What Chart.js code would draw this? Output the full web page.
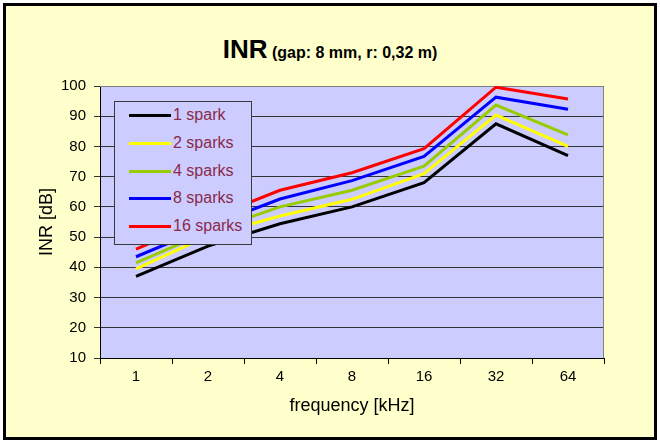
<!DOCTYPE html>
<html>
<head>
<meta charset="utf-8">
<script src="https://cdn.jsdelivr.net/npm/chart.js@4.4.1/dist/chart.umd.min.js"></script>
<style>
    body { margin: 0; background: #fff; font-family: "Liberation Sans", Arial, sans-serif; }
    #frame { position: absolute; left: 3px; top: 3px; width: 648px; height: 431px; border: 3px solid #000; background: #FFFFCC; }
    #title { position: absolute; left: 0; top: 34px; width: 660px; text-align: center; font-size: 26px; font-weight: bold; line-height: 30px; color: #000; }
    #title span { font-size: 16px; }
    #wrap { position: absolute; left: 0; top: 0; width: 660px; height: 443px; }
    #legend { position: absolute; left: 114px; top: 101px; width: 136px; height: 142px; border: 1px solid #3a3a3a; background: #CCCCFF; }
    .item { position: absolute; left: 0; height: 20px; width: 136px; }
    .swatch { position: absolute; left: 14px; top: 9px; width: 42px; height: 3px; }
    .lbl { position: absolute; left: 58px; top: 0; font-size: 16px; line-height: 20px; color: #8a2a4a; white-space: nowrap; }
</style>
</head>
<body>
<div id="frame"></div>
<div id="title">INR<span> (gap: 8 mm, r: 0,32 m)</span></div>
<div id="wrap"><canvas id="chart" width="660" height="443"></canvas></div>
<div id="legend"></div>
<script>
// frequenze (kHz) e valori INR
const categories = ['1', '2', '4', '8', '16', '32', '64'];
const seriesNames = ['1 spark', '2 sparks', '4 sparks', '8 sparks', '16 sparks'];
const spark1 = [37, 47, 54.4, 60, 68, 87.5, 77];
const spark2 = [39.5, 50.4, 57, 62.5, 71, 90.4, 80];
const spark4 = [41.5, 51.8, 60, 65.5, 73.5, 93.7, 83.8];
const spark8 = [43.5, 53.5, 62.6, 68.7, 76.7, 96.3, 92.3];
const spark16 = [46, 56, 65.5, 71.3, 79.3, 99.6, 95.7];
const yTicks = [10, 20, 30, 40, 50, 60, 70, 80, 90, 100];

const colors = ['#000000', '#FFFF00', '#99CC00', '#0000FF', '#FF0000'];
const values = [spark1, spark2, spark4, spark8, spark16];

// sfondo e bordo dell'area del grafico
const plotArea = {
    id: 'plotArea',
    beforeDraw(chart) {
        const a = chart.chartArea, ctx = chart.ctx;
        ctx.save();
        ctx.fillStyle = '#CCCCFF';
        ctx.fillRect(a.left, a.top, a.right - a.left, a.bottom - a.top);
        ctx.restore();
    },
    beforeDatasetsDraw(chart) {
        const a = chart.chartArea, ctx = chart.ctx;
        ctx.save();
        ctx.strokeStyle = '#808080';
        ctx.lineWidth = 1;
        ctx.beginPath();
        ctx.moveTo(a.left, a.top + 0.5);
        ctx.lineTo(a.right - 0.5, a.top + 0.5);
        ctx.lineTo(a.right - 0.5, a.bottom);
        ctx.stroke();
        ctx.restore();
    }
};

const chart = new Chart(document.getElementById('chart').getContext('2d'), {
    type: 'line',
    data: {
        labels: categories,
        datasets: seriesNames.map((name, i) => ({
            label: name,
            data: values[i],
            borderColor: colors[i],
            backgroundColor: colors[i],
            borderWidth: 3,
            pointRadius: 0,
            tension: 0,
            order: seriesNames.length - i
        }))
    },
    plugins: [plotArea],
    options: {
        responsive: false,
        animation: false,
        layout: { padding: { left: 0, top: 86, right: 56, bottom: 0 } },
        plugins: {
            legend: { display: false },
            title: { display: false },
            tooltip: { enabled: false }
        },
        scales: {
            x: {
                offset: true,
                grid: { offset: true, drawOnChartArea: false, drawTicks: true, tickLength: 6, color: '#000' },
                border: { display: true, color: '#000', width: 1 },
                ticks: { color: '#000', padding: 4, font: { family: 'Liberation Sans', size: 15 } },
                title: { display: true, text: 'frequency [kHz]', color: '#000', padding: { top: 0, bottom: 26 }, font: { family: 'Liberation Sans', size: 18 } },
                afterFit(scale) { scale.height = 85; }
            },
            y: {
                min: yTicks[0],
                max: yTicks[yTicks.length - 1],
                afterBuildTicks(scale) { scale.ticks = yTicks.map(v => ({ value: v })); },
                grid: { color: '#333', tickLength: 6, drawTicks: true },
                border: { display: true, color: '#000', width: 1 },
                ticks: { color: '#000', padding: 8, font: { family: 'Liberation Sans', size: 15 } },
                title: { display: true, text: 'INR [dB]', color: '#000', padding: { top: 36, bottom: 0 }, font: { family: 'Liberation Sans', size: 18 } },
                afterFit(scale) { scale.width = 100; }
            }
        }
    }
});

// legenda dentro l'area del grafico
function renderLegend() {
    const box = document.getElementById('legend');
    chart.data.datasets.forEach((ds, i) => {
        const row = document.createElement('div');
        row.className = 'item';
        row.style.top = (3 + i * 27.8) + 'px';
        row.innerHTML = `<div class="swatch" style="background:${ds.borderColor}"></div><div class="lbl">${ds.label}</div>`;
        box.appendChild(row);
    });
}
renderLegend();
</script>
</body>
</html>
